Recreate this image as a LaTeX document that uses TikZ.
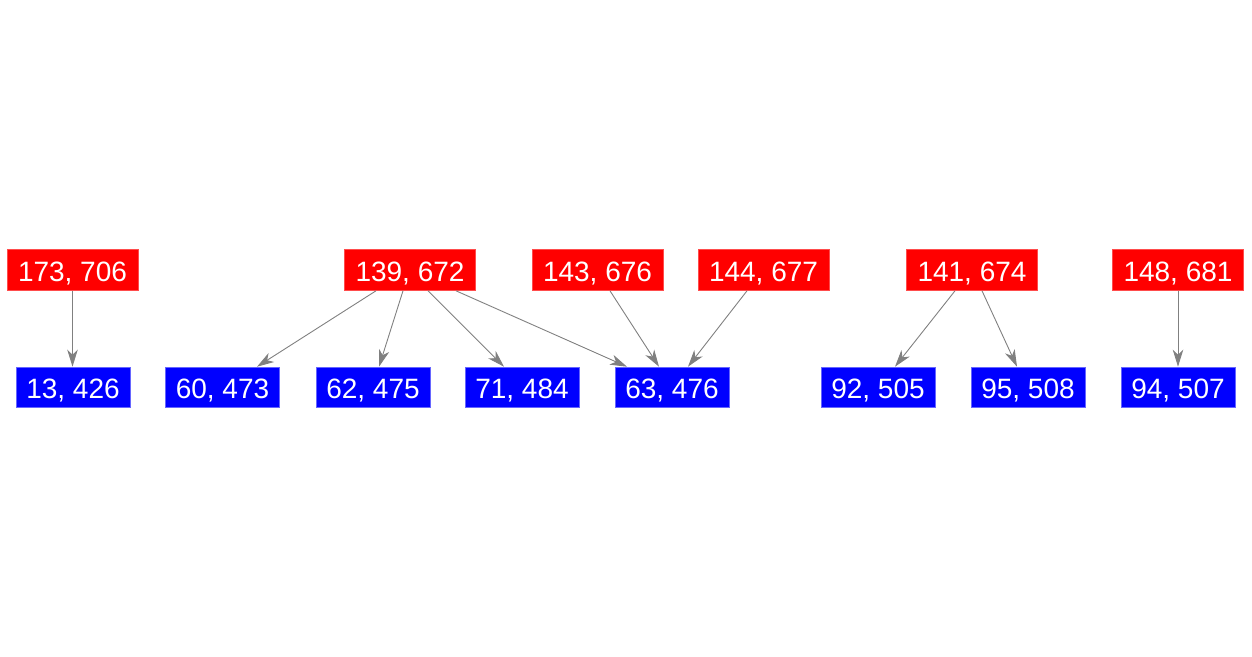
\documentclass[tikz,border=0pt]{standalone}
\usepackage{fontspec}
\setmainfont{Liberation Sans}
\usetikzlibrary{arrows.meta}
\definecolor{myred}{RGB}{255,0,0}
\definecolor{myblue}{RGB}{0,0,255}
\definecolor{edgegray}{RGB}{128,128,128}
\tikzset{
  basebox/.style={inner sep=0pt, text=white, font=\fontsize{28}{30}\selectfont,
    text height=23.5pt, text depth=0pt, line width=0.6pt},
  redbox/.style={basebox, fill=myred, draw=myred!70!white, minimum width=131pt, minimum height=41pt},
  bluebox/.style={basebox, fill=myblue, draw=myblue!60!white, minimum width=114pt, minimum height=40pt},
  edge/.style={draw=edgegray, line width=0.9pt,
    -{Stealth[length=17pt,width=10.5pt,inset=5pt,fill=edgegray]}},
}
\begin{document}
\begin{tikzpicture}[x=1pt,y=-1pt]
\useasboundingbox (0,0) rectangle (1252,656);
% red nodes
\node[redbox] (r173) at (72.5,270) {173, 706};
\node[redbox] (r139) at (410,270) {139, 672};
\node[redbox] (r143) at (597.5,270) {143, 676};
\node[redbox] (r144) at (763.5,270) {144, 677};
\node[redbox] (r141) at (972,270) {141, 674};
\node[redbox] (r148) at (1178,270) {148, 681};
% blue nodes
\node[bluebox] (b13) at (73,387) {13, 426};
\node[bluebox] (b60) at (222.5,387) {60, 473};
\node[bluebox] (b62) at (373,387) {62, 475};
\node[bluebox] (b71) at (522,387) {71, 484};
\node[bluebox] (b63) at (672,387) {63, 476};
\node[bluebox] (b92) at (878,387) {92, 505};
\node[bluebox] (b95) at (1028,387) {95, 508};
\node[bluebox] (b94) at (1178,387) {94, 507};
% edges
\draw[edge] (r173.south) -- (r173.south |- b13.north);
\draw[edge] ([xshift=-34pt]r139.south) -- ([xshift=34.5pt]b60.north);
\draw[edge] ([xshift=-7pt]r139.south) -- ([xshift=6pt]b62.north);
\draw[edge] ([xshift=18pt]r139.south) -- ([xshift=-18pt]b71.north);
\draw[edge] ([xshift=46pt]r139.south) -- ([xshift=-45pt]b63.north);
\draw[edge] ([xshift=12.5pt]r143.south) -- ([xshift=-13pt]b63.north);
\draw[edge] ([xshift=-16.5pt]r144.south) -- ([xshift=16pt]b63.north);
\draw[edge] ([xshift=-17pt]r141.south) -- ([xshift=17pt]b92.north);
\draw[edge] ([xshift=10pt]r141.south) -- ([xshift=-11pt]b95.north);
\draw[edge] (r148.south) -- (b94.north);
\end{tikzpicture}
\end{document}
